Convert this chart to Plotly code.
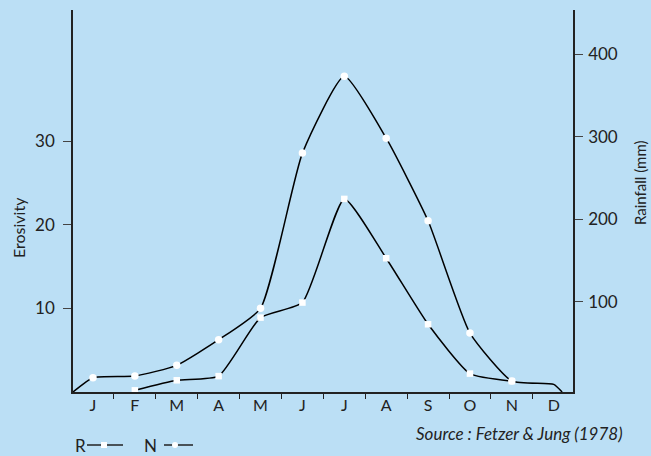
import plotly.graph_objects as go

# ---- data ----
months = ["J", "F", "M", "A", "M", "J", "J", "A", "S", "O", "N", "D"]
month_idx = list(range(len(months)))

# N : monthly rainfall (mm), right axis
rain_mm = [8, 10, 23, 54, 92, 280, 373, 298, 198, 62, 4, 0]

# R : erosivity, left axis (Feb .. Nov)
eros_idx = [1, 2, 3, 4, 5, 6, 7, 8, 9, 10]
erosivity = [0.2, 1.4, 1.9, 8.9, 10.7, 23.1, 16.0, 8.1, 2.2, 1.3]

eros_ticks = [10, 20, 30]
rain_ticks = [100, 200, 300, 400]

# ---- styling / layout constants ----
BG = "rgb(187,223,245)"
INK = "#222222"
FONT = "Lato"
X_RANGE = [-0.477, 11.46]
EROS_RANGE = [0, 45.7]
RAIN_RANGE = [-9.3, 453.3]
TAIL_X = 11.2  # where the rainfall curve meets the base line after December

fig = go.Figure()

# rainfall curve (runs from the axis corner, through the months, back to the base line)
rx = [X_RANGE[0]] + month_idx + [TAIL_X]
ry = [RAIN_RANGE[0]] + rain_mm + [RAIN_RANGE[0]]
fig.add_trace(go.Scatter(x=rx, y=ry, mode="lines", yaxis="y2",
                         line=dict(color="black", width=1.5, shape="spline", smoothing=0.5),
                         showlegend=False, hoverinfo="skip"))
fig.add_trace(go.Scatter(x=eros_idx, y=erosivity, mode="lines", yaxis="y",
                         line=dict(color="black", width=1.5, shape="spline", smoothing=0.5),
                         showlegend=False, hoverinfo="skip"))
# markers
fig.add_trace(go.Scatter(x=month_idx[:11], y=rain_mm[:11], mode="markers", yaxis="y2",
                         marker=dict(symbol="circle", size=7.5, color="white", line=dict(width=0)),
                         name="N", showlegend=False))
fig.add_trace(go.Scatter(x=eros_idx, y=erosivity, mode="markers", yaxis="y",
                         marker=dict(symbol="square", size=6.5, color="white", line=dict(width=0)),
                         name="R", showlegend=False))

numfont = dict(family=FONT, size=17, color=INK)
monfont = dict(family=FONT, size=16, color=INK)

fig.update_layout(
    width=651, height=456,
    margin=dict(l=73, r=78, t=10, b=64),
    paper_bgcolor=BG, plot_bgcolor=BG,
    showlegend=False,
    xaxis=dict(range=X_RANGE, showline=True, linecolor=INK, linewidth=1.5,
               tickvals=month_idx, ticktext=months, ticks="", tickfont=monfont,
               showgrid=False, zeroline=False, ticklabelstandoff=-2, automargin=False,
               minor=dict(tickvals=[i + 0.5 for i in month_idx[:-1]], ticks="outside",
                          ticklen=5, tickwidth=1.2, tickcolor=INK, showgrid=False)),
    yaxis=dict(range=EROS_RANGE, showline=True, linecolor=INK, linewidth=1.5,
               tickvals=eros_ticks, ticks="outside", ticklen=8, tickwidth=1.2, tickcolor="#444",
               tickfont=numfont, showgrid=False, zeroline=False, ticklabelstandoff=5,
               automargin=False),
    yaxis2=dict(range=RAIN_RANGE, overlaying="y", side="right", showline=True,
                linecolor=INK, linewidth=1.5,
                tickvals=rain_ticks, ticks="outside", ticklen=8, tickwidth=1.2, tickcolor="#444",
                tickfont=numfont, showgrid=False, zeroline=False, ticklabelstandoff=2,
                automargin=False),
)

def px_x(px):
    return (px - 73) / 500.0

def px_y(py):
    return (392 - py) / 382.0

annots = [
    dict(text="Erosivity", x=px_x(18), y=px_y(228), textangle=-90,
         font=dict(family=FONT, size=16, color=INK)),
    dict(text="Rainfall (mm)", x=px_x(640), y=px_y(183), textangle=-90,
         font=dict(family=FONT, size=15, color=INK)),
    dict(text="Source : Fetzer & Jung (1978)", x=px_x(625), y=px_y(433), xanchor="right",
         font=dict(family=FONT, size=17, color=INK, style="italic")),
    dict(text="R", x=px_x(73), y=px_y(445), xanchor="left",
         font=dict(family=FONT, size=17, color=INK)),
    dict(text="N", x=px_x(142), y=px_y(445), xanchor="left",
         font=dict(family=FONT, size=17, color=INK)),
]
for a in annots:
    a.setdefault("xanchor", "center")
    fig.add_annotation(xref="paper", yref="paper", showarrow=False, yanchor="middle", **a)

# hand-drawn legend keys
shapes = [
    dict(type="line", x0=px_x(87), x1=px_x(123), y0=px_y(445), y1=px_y(445),
         line=dict(color=INK, width=1.5)),
    dict(type="line", x0=px_x(164), x1=px_x(193), y0=px_y(445), y1=px_y(445),
         line=dict(color=INK, width=1.5)),
    dict(type="rect", xsizemode="pixel", ysizemode="pixel", xanchor=px_x(104), yanchor=px_y(445),
         x0=-3, x1=3, y0=-3, y1=3, fillcolor="white", line=dict(width=0)),
    dict(type="circle", xsizemode="pixel", ysizemode="pixel", xanchor=px_x(175), yanchor=px_y(445),
         x0=-3, x1=3, y0=-3, y1=3, fillcolor="white", line=dict(width=0)),
]
for s in shapes:
    fig.add_shape(xref="paper", yref="paper", **s)

fig.write_html("out.html", config={"displayModeBar": False},
               post_script="document.body.style.margin='0';document.body.style.overflow='hidden';")
